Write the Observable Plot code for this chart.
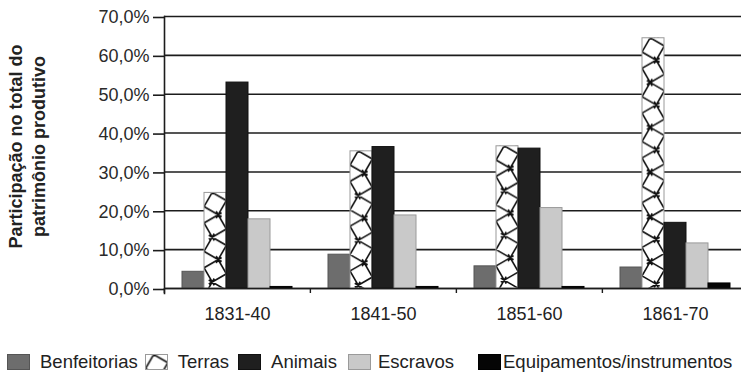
<!DOCTYPE html>
<html>
<head>
<meta charset="utf-8">
<script src="https://cdn.jsdelivr.net/npm/d3@7"></script>
<script src="https://cdn.jsdelivr.net/npm/@observablehq/plot@0.6"></script>
<style>
  body { margin: 0; background: #fff; font-family: "Liberation Sans", Arial, sans-serif; }
  #chart { width: 741px; }
  .legend { display: flex; align-items: center; height: 38px; margin-top: 8px; padding-left: 7px; font-size: 18.5px; color: #222; white-space: nowrap; }
  .legend .item { display: inline-flex; align-items: center; }
  .legend svg { display: block; flex: none; }
</style>
</head>
<body>
<svg width="0" height="0" style="position:absolute">
  <defs>
    <pattern id="terras-lattice" patternUnits="objectBoundingBox" patternContentUnits="userSpaceOnUse" x="0" y="0" width="1" height="1">
      <rect x="-5" y="-5" width="60" height="600" fill="#fff"></rect>
      <path id="lattice-path" fill="none" stroke="#111" stroke-width="1.6"></path>
    </pattern>
  </defs>
</svg>
<div id="chart"></div>
<script>
// Share of each asset class in total productive wealth, by decade
const periods = ["1831-40", "1841-50", "1851-60", "1861-70"];
const series = ["Benfeitorias", "Terras", "Animais", "Escravos", "Equipamentos/instrumentos"];
const benfeitorias = [4.3, 8.7, 5.7, 5.4];
const terras = [24.6, 35.3, 36.6, 64.4];
const animais = [53.0, 36.4, 36.0, 16.9];
const escravos = [17.8, 18.8, 20.7, 11.6];
const equipamentos = [0.4, 0.4, 0.4, 1.3];
const yTicks = [0, 10, 20, 30, 40, 50, 60, 70];
const yTitle = "Participação no total do\npatrimônio produtivo";

const fills = ["#6d6d6d", "url(#terras-lattice)", "#1f1f1f", "#c9c9c9", "#050505"];
const edges = ["#555555", "#9a9a9a", "#111111", "#9a9a9a", "#000000"];

const valuesBySeries = [benfeitorias, terras, animais, escravos, equipamentos];
const table = periods.flatMap((period, i) =>
  series.map((s, j) => ({period, series: s, value: valuesBySeries[j][i]}))
);

// Lattice of tilted squares used as the fill for "Terras"
(function buildLattice() {
  const w = 22.4, h = 600, t = Math.PI / 6;
  const s = w / (Math.cos(t) + Math.sin(t));
  const a = s * Math.sin(t), b = s * Math.cos(t);
  const ext = 4;
  let d = "";
  for (let k = 0; k * w < h; k++) {
    const y0 = k * w;
    const pts = k % 2 === 0
      ? [[a, 0], [w, a], [b, w], [0, b]]
      : [[b, 0], [w, b], [a, w], [0, a]];
    for (let i = 0; i < 4; i++) {
      const p = pts[i], q = pts[(i + 1) % 4];
      const dx = q[0] - p[0], dy = q[1] - p[1], len = Math.hypot(dx, dy);
      const ux = dx / len * ext, uy = dy / len * ext;
      d += `M${(p[0] - ux).toFixed(2)},${(y0 + p[1] - uy).toFixed(2)}L${(q[0] + ux).toFixed(2)},${(y0 + q[1] + uy).toFixed(2)}`;
    }
  }
  document.getElementById("lattice-path").setAttribute("d", d);
})();

const W = 741, H = 335;
const mL = 163, mR = -7, mT = 16, mB = 47;
const halfStep = (W - mL - mR) / periods.length / 2;
const fmt = d => d.toFixed(1).replace(".", ",") + "%";
const gridColor = "#1c1c1c";

const chart = Plot.plot({
  width: W,
  height: H,
  marginLeft: mL,
  marginRight: mR,
  marginTop: mT,
  marginBottom: mB,
  style: {fontFamily: "'Liberation Sans', Arial, sans-serif", fontSize: "18px", color: "#222", background: "white", overflow: "visible"},
  fx: {domain: periods, padding: 0, axis: null},
  x: {domain: series, paddingInner: 0, paddingOuter: 0.765, axis: null},
  y: {domain: [0, 70], axis: null},
  color: {domain: series, range: fills},
  marks: [
    Plot.gridY(yTicks, {stroke: gridColor, strokeOpacity: 1, strokeWidth: 1.6}),
    Plot.barY(table, {
      fx: "period",
      x: "series",
      y: "value",
      fill: "series",
      stroke: d => edges[series.indexOf(d.series)],
      strokeWidth: 1
    }),
    Plot.ruleY([0], {stroke: gridColor, strokeWidth: 1.6}),
    Plot.axisY(yTicks, {tickSize: 11, tickPadding: 4, tickFormat: fmt, stroke: gridColor, strokeWidth: 1.6, fill: "#2a2a2a", fontSize: 18, dy: 1, label: null}),
    Plot.frame({anchor: "left", fx: periods[0], stroke: gridColor, strokeWidth: 1.6, insetBottom: -5}),
    Plot.axisFx({anchor: "bottom", tickSize: 5, tickFormat: () => "", dx: -halfStep, stroke: gridColor, strokeWidth: 1.4, label: null}),
    Plot.axisFx({anchor: "bottom", tickSize: 0, tickPadding: 19, fill: "#222", fontSize: 18, label: null}),
    Plot.text([yTitle], {
      facet: "super",
      frameAnchor: "left",
      text: d => d,
      rotate: -90,
      dx: -138,
      dy: -6,
      lineAnchor: "middle",
      textAnchor: "middle",
      lineHeight: 1.25,
      fontWeight: "bold",
      fontSize: 18,
      fill: "#222"
    })
  ]
});

const container = document.getElementById("chart");
container.append(chart);

// Legend below the chart
const legend = document.createElement("div");
legend.className = "legend";
const gaps = [7, 9, 11, 24, 0];
const textGaps = [10, 10, 10, 7, 2];
series.forEach((s, j) => {
  const item = document.createElement("span");
  item.className = "item";
  item.style.marginRight = gaps[j] + "px";
  const sw = document.createElementNS("http://www.w3.org/2000/svg", "svg");
  sw.setAttribute("width", 23);
  sw.setAttribute("height", 16);
  const r = document.createElementNS("http://www.w3.org/2000/svg", "rect");
  r.setAttribute("x", 0.5);
  r.setAttribute("y", 0.5);
  r.setAttribute("width", 22);
  r.setAttribute("height", 15);
  r.setAttribute("fill", fills[j]);
  r.setAttribute("stroke", edges[j]);
  sw.append(r);
  const label = document.createElement("span");
  label.textContent = s;
  label.style.marginLeft = textGaps[j] + "px";
  item.append(sw, label);
  legend.append(item);
});
container.append(legend);
</script>
</body>
</html>
